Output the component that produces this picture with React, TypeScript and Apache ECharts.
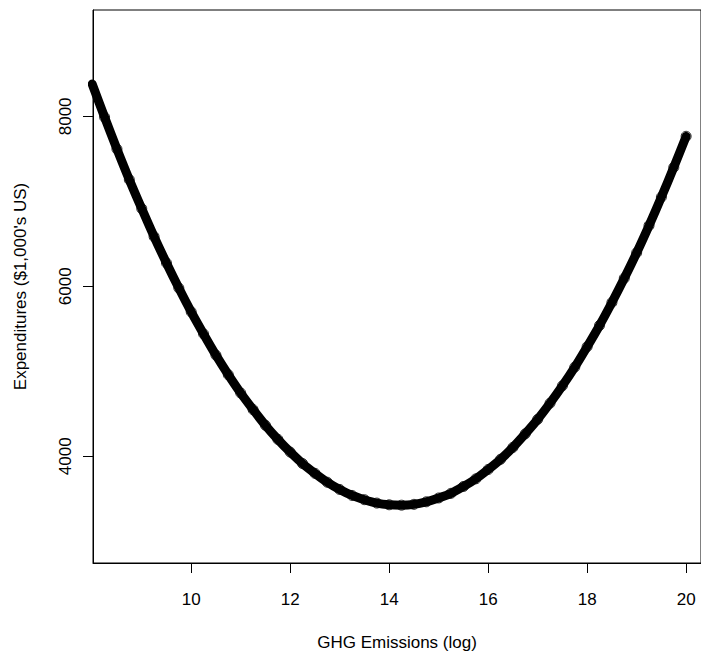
import React, { useEffect, useRef } from "react";
import * as echarts from "echarts";

const emissionsLog: number[] = [
  8.0, 8.25, 8.5, 8.75, 9.0, 9.25, 9.5, 9.75, 10.0, 10.25, 10.5, 10.75, 11.0,
  11.25, 11.5, 11.75, 12.0, 12.25, 12.5, 12.75, 13.0, 13.25, 13.5, 13.75, 14.0,
  14.25, 14.5, 14.75, 15.0, 15.25, 15.5, 15.75, 16.0, 16.25, 16.5, 16.75, 17.0,
  17.25, 17.5, 17.75, 18.0, 18.25, 18.5, 18.75, 19.0, 19.25, 19.5, 19.75, 20.0,
];

const expenditures: number[] = [
  8380, 7990, 7615, 7255, 6915, 6585, 6275, 5980, 5700, 5440, 5190, 4960, 4745,
  4550, 4365, 4200, 4050, 3915, 3800, 3695, 3610, 3540, 3490, 3450, 3430,
  3425, 3435, 3465, 3510, 3565, 3645, 3735, 3845, 3965, 4105, 4265, 4435,
  4625, 4830, 5050, 5290, 5540, 5810, 6095, 6395, 6715, 7050, 7400, 7765,
];

const xTicks: number[] = [10, 12, 14, 16, 18, 20];
const yTicks: number[] = [4000, 6000, 8000];

const FONT = "'Liberation Sans', Arial, sans-serif";

export default function App() {
  const ref = useRef<HTMLDivElement>(null);

  useEffect(() => {
    document.body.style.margin = "0";
    if (!ref.current) return;
    const chart = echarts.init(ref.current, undefined, { renderer: "svg" });
    const points = emissionsLog.map((x, i) => [x, expenditures[i]]);
    chart.setOption({
      animation: false,
      backgroundColor: "#ffffff",
      grid: {
        left: 93,
        top: 10,
        width: 610,
        height: 553,
        show: true,
        borderColor: "#000",
        borderWidth: 1,
        containLabel: false,
      },
      xAxis: {
        type: "value",
        min: 8.016,
        max: 20.3,
        name: "GHG Emissions (log)",
        nameLocation: "middle",
        nameGap: 71,
        nameTextStyle: { fontFamily: FONT, fontSize: 17, color: "#000" },
        splitLine: { show: false },
        axisLine: { show: true, lineStyle: { color: "#000", width: 1 } },
        axisTick: {
          show: true,
          length: 10,
          customValues: xTicks,
          lineStyle: { color: "#000", width: 1 },
        },
        axisLabel: {
          customValues: xTicks,
          formatter: (v: number) => String(v),
          margin: 28,
          fontFamily: FONT,
          fontSize: 17,
          color: "#000",
        },
      },
      yAxis: {
        type: "value",
        min: 2745,
        max: 9251,
        name: "Expenditures ($1,000's US)",
        nameLocation: "middle",
        nameGap: 64,
        nameTextStyle: { fontFamily: FONT, fontSize: 17, color: "#000" },
        splitLine: { show: false },
        axisLine: { show: true, lineStyle: { color: "#000", width: 1 } },
        axisTick: {
          show: true,
          length: 10,
          customValues: yTicks,
          lineStyle: { color: "#000", width: 1 },
        },
        axisLabel: {
          customValues: yTicks,
          formatter: (v: number) => String(v),
          rotate: 90,
          margin: 19,
          fontFamily: FONT,
          fontSize: 17,
          color: "#000",
        },
      },
      series: [
        {
          type: "line",
          data: points,
          showSymbol: false,
          smooth: 0.3,
          lineStyle: { color: "#000", width: 9, cap: "round", join: "round" },
          clip: true,
        },
        {
          type: "scatter",
          data: points,
          symbol: "circle",
          symbolSize: 10,
          itemStyle: { color: "rgba(0,0,0,0)", borderColor: "#000", borderWidth: 1 },
          clip: true,
        },
      ],
    });
    return () => chart.dispose();
  }, []);

  return <div ref={ref} style={{ width: 701, height: 658 }} />;
}
